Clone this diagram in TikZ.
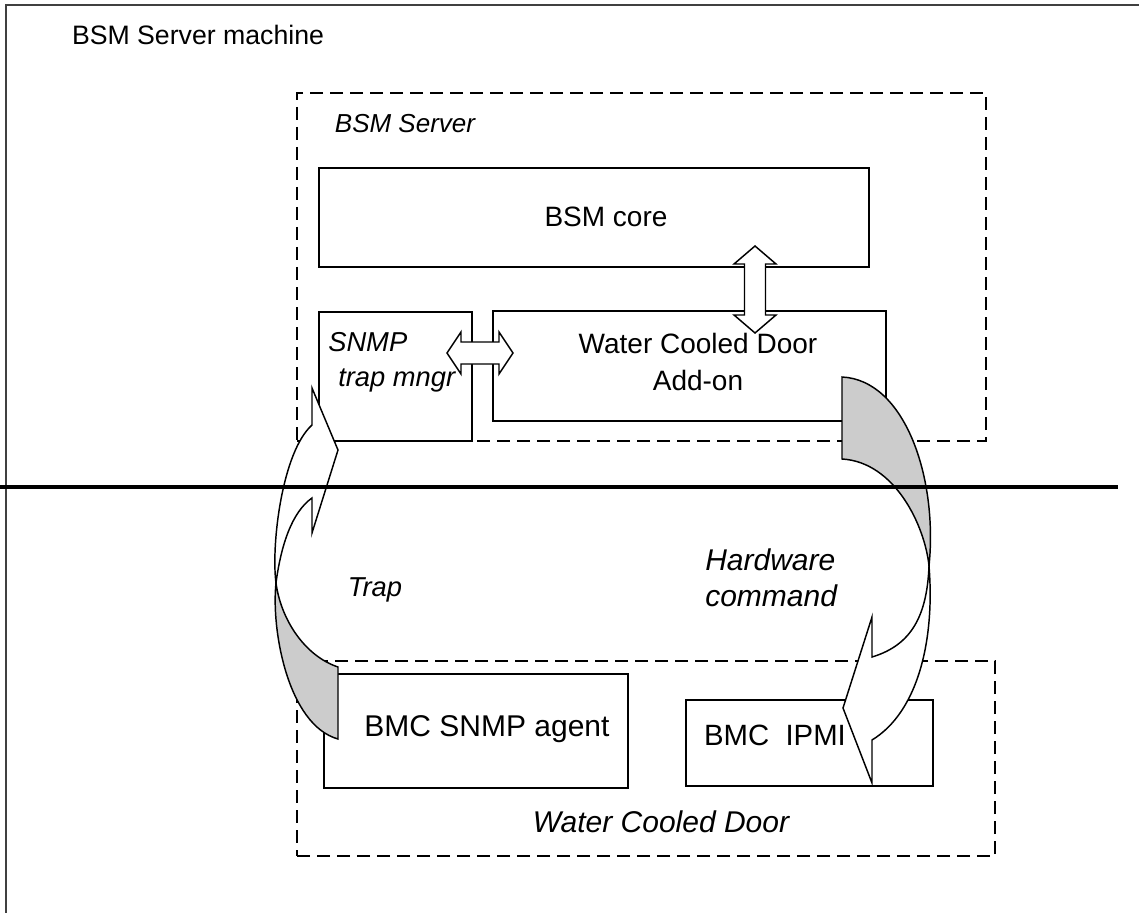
\documentclass[tikz,border=0pt]{standalone}
\usepackage{fontspec}
\setmainfont{Liberation Sans}
\usetikzlibrary{fit}

\begin{document}
\begin{tikzpicture}[x=0.75pt,y=0.75pt,yscale=-1,xscale=1,
  box/.style={draw, line width=1.1pt, inner sep=0pt},
  grp/.style={draw, line width=1.1pt, dash pattern=on 10pt off 5pt, inner sep=0pt},
  dblarr/.style={draw, line width=1.1pt, fill=white},
  backside/.style={draw, line width=1.1pt, fill=black!20},
  frontside/.style={draw, line width=1.1pt, fill=white},
  txt/.style={inner sep=0pt, align=center, font=\fontsize{21}{27.75}\selectfont},
  itxt/.style={inner sep=0pt, font=\fontsize{20.5}{27}\selectfont\itshape},
]
\useasboundingbox (0,0) rectangle (1139,913);
%Shape: Frame
\draw [black!75, line width=1pt] (1139,5) -- (6,5) -- (6,913) ;
% Text Node
\node [inner sep=0pt, font=\fontsize{20}{24}\selectfont] (machine) at (198,35) {BSM Server machine};

%Shape: Dashed Rectangle (server side)
\node [grp, fit={(297,93) (986,441)}] (server) {};
% Text Node
\node [itxt, font=\fontsize{19.5}{24}\selectfont\itshape] (serverlbl) at (405,124) {BSM Server};
%Shape: Rectangle
\node [box, fit={(319,168) (869,267)}] (core) {};
\node [txt] (corelbl) at (606,217) {BSM core};
%Shape: Rectangle
\node [box, fit={(319,312) (472,441)}] (trapmgr) {};
\node [itxt, anchor=west] (snmplbl) at (328,342) {SNMP};
\node [itxt, anchor=west] (mngrlbl) at (338,380) {trap mngr};
%Shape: Rectangle
\node [box, fit={(493,311) (886,421)}] (addon) {};
\node [txt] (addonlbl) at (698,362) {Water Cooled Door\\Add-on};

%Shape: Dashed Rectangle (door side)
\node [grp, fit={(297,661) (995,856)}] (door) {};
%Shape: Rectangle
\node [box, fit={(324,674) (628,788)}] (agent) {};
\node [txt, font=\fontsize{22.5}{27}\selectfont] (agentlbl) at (487,729) {BMC SNMP agent};
%Shape: Rectangle
\node [box, fit={(686,700) (933,786)}] (ipmi) {};
\node [txt, font=\fontsize{22}{27}\selectfont] (ipmilbl) at (775,735) {BMC~~IPMI};
% Text Node
\node [itxt, font=\fontsize{22.5}{27}\selectfont\itshape] (doorlbl) at (661,822) {Water Cooled Door};

%Double Arrow: trap mngr <-> add-on
\draw [dblarr] (447,353) -- ++(14,-21) -- ++(0,10) -- ++(38,0) -- ++(0,-10) -- ++(14,21) -- ++(-14,21) -- ++(0,-10) -- ++(-38,0) -- ++(0,10) -- cycle ;
%Double Arrow: core <-> add-on
\draw [dblarr] (755,246) -- ++(21,18) -- ++(-10.5,0) -- ++(0,51) -- ++(10.5,0) -- ++(-21,18) -- ++(-21,-18) -- ++(10.5,0) -- ++(0,-51) -- ++(-10.5,0) -- cycle ;

%Curved Arrow: Trap (back side)
\draw [backside] (338,667) .. controls (305,656) and (281,620) .. (276,583) .. controls (271,630) and (288,725) .. (338,739) -- cycle ;
%Curved Arrow: Trap (front side and head)
\draw [frontside] (276,583) .. controls (271,545) and (282,452) .. (312,425) -- (312,388) -- (338,450) -- (312,533) -- (312,498) .. controls (292,512) and (281,545) .. (276,583) -- cycle ;
% Text Node
\node [itxt] (traplbl) at (375,590) {Trap};

%Curved Arrow: Hardware command (back side)
\draw [backside] (842,377) .. controls (905,380) and (938,478) .. (929,566) .. controls (925,526) and (895,462) .. (842,459) -- cycle ;
%Curved Arrow: Hardware command (front side and head)
\draw [frontside] (929,566) .. controls (927,615) and (912,645) .. (872,657) -- (872,617) -- (843,708) -- (872,783) -- (872,740) .. controls (918,712) and (935,640) .. (929,566) -- cycle ;
% Text Node
\node [itxt, anchor=west, align=left, font=\fontsize{22.5}{27}\selectfont\itshape] (hwlbl) at (705,578) {Hardware\\command};

%Straight Lines: separation
\draw [line width=3pt] (0,487) -- (1118,487) ;
\end{tikzpicture}
\end{document}
